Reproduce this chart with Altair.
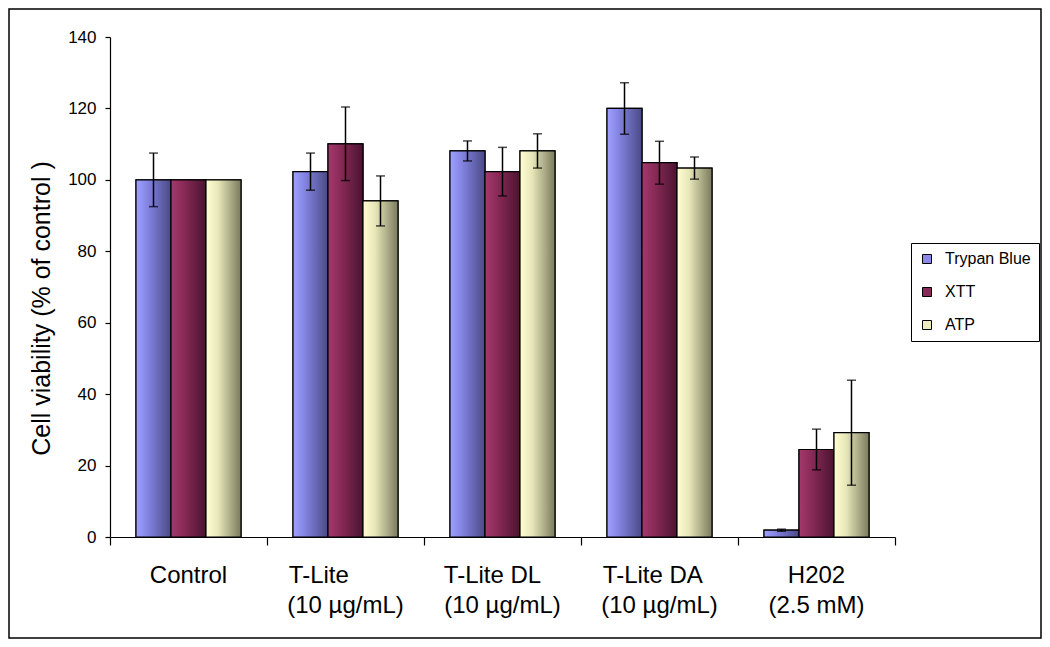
import json
import altair as alt
import pandas as pd

# ---------------- data ----------------
categories = ["Control", "T-Lite (10 µg/mL)", "T-Lite DL (10 µg/mL)",
              "T-Lite DA (10 µg/mL)", "H202 (2.5 mM)"]
NB = "\u00a0"
ZW = "\u200b"
category_lines = [
    ["Control"],
    ["T-Lite" + NB * 8 + ZW, "(10 µg/mL)"],
    ["T-Lite DL" + NB * 3 + ZW, "(10 µg/mL)"],
    ["T-Lite DA" + NB * 2 + ZW, "(10 µg/mL)"],
    ["H202", "(2.5 mM)"],
]
series = ["Trypan Blue", "XTT", "ATP"]

trypan_values = [100.0, 102.3, 108.1, 120.0, 1.9]
trypan_errors = [7.5, 5.2, 2.8, 7.2, 0.3]
xtt_values = [100.0, 110.1, 102.3, 104.8, 24.5]
xtt_errors = [0.0, 10.3, 6.8, 6.0, 5.7]
atp_values = [100.0, 94.1, 108.1, 103.3, 29.2]
atp_errors = [0.0, 7.0, 4.8, 3.1, 14.7]

y_ticks = [0, 20, 40, 60, 80, 100, 120, 140]

legend_colors = ["#8a8ae6", "#882a58", "#ececb8"]
gradients = {
    "Trypan Blue": ["#a0a0ff", "#8282e0", "#4a4a86"],
    "XTT": ["#a33a6c", "#8a2a58", "#4a1430"],
    "ATP": ["#ffffd2", "#e6e6b8", "#7a7a5e"],
}

# ---------------- table ----------------
rows = []
for s, vals, errs in [("Trypan Blue", trypan_values, trypan_errors),
                      ("XTT", xtt_values, xtt_errors),
                      ("ATP", atp_values, atp_errors)]:
    for c, v, e in zip(categories, vals, errs):
        rows.append({"cat": c, "series": s, "value": v, "err": e,
                     "lo": v - e, "hi": v + e})
df = pd.DataFrame(rows)
df_err = df[df["err"] > 0]

FONT = "Liberation Sans, Arial, sans-serif"

label_map = json.dumps(dict(zip(categories, category_lines)), ensure_ascii=False)

x_axis = alt.Axis(
    title=None, labelAngle=0, labelFont=FONT, labelFontSize=24, labelColor="black",
    labelLineHeight=30, labelBaseline="top", labelPadding=18,
    labelExpr=label_map + "[datum.label]",
    tickSize=8, tickColor="black", tickWidth=1.2, bandPosition=1, tickExtra=True,
    domainColor="black", domainWidth=1.2,
)
y_axis = alt.Axis(
    title="Cell viability (% of control )", titleFont=FONT, titleFontSize=25,
    titleFontWeight="normal", titleColor="black", titlePadding=13, titleY=271,
    values=y_ticks, labelFont=FONT, labelFontSize=17, labelColor="black",
    labelPadding=9, tickSize=5, tickColor="black", tickWidth=1.2,
    domainColor="black", domainWidth=1.2, grid=False,
)

x_enc = alt.X("cat:N", sort=categories, axis=x_axis,
              scale=alt.Scale(domain=categories, paddingInner=0, paddingOuter=0))
xoff_enc = alt.XOffset("series:N", sort=series,
                       scale=alt.Scale(domain=series, paddingInner=0, paddingOuter=0.743))
y_scale = alt.Scale(domain=[0, 140], nice=False)

base = alt.Chart(df).mark_bar(stroke="black", strokeWidth=1.2).encode(
    x=x_enc, xOffset=xoff_enc,
    y=alt.Y("value:Q", scale=y_scale, axis=y_axis),
    color=alt.Color("series:N", sort=series,
                    scale=alt.Scale(domain=series, range=legend_colors),
                    legend=alt.Legend(
                        title=None, orient="none", legendX=801, legendY=206,
                        strokeColor="black", fillColor="white", padding=8,
                        labelFont=FONT, labelFontSize=16, labelColor="black",
                        symbolType="square", symbolSize=81,
                        symbolStrokeColor="black", symbolStrokeWidth=1,
                        rowPadding=17, labelOffset=10)),
)

overlays = []
for s in series:
    stops = gradients[s]
    grad = alt.LinearGradient(
        gradient="linear", x1=0, x2=1, y1=0, y2=0,
        stops=[alt.GradientStop(color=stops[0], offset=0),
               alt.GradientStop(color=stops[1], offset=0.35),
               alt.GradientStop(color=stops[2], offset=1)])
    overlays.append(
        alt.Chart(df).transform_filter(alt.datum.series == s)
        .mark_bar(fill=grad, stroke="black", strokeWidth=1.2)
        .encode(x=x_enc, xOffset=xoff_enc,
                y=alt.Y("value:Q", scale=y_scale, axis=y_axis))
    )

err_rule = alt.Chart(df_err).mark_rule(color="black", strokeWidth=1.5).encode(
    x=x_enc, xOffset=xoff_enc,
    y=alt.Y("lo:Q", scale=y_scale, axis=y_axis), y2="hi:Q",
)
cap_lo = alt.Chart(df_err).mark_tick(color="black", thickness=1.5, size=9,
                                     orient="horizontal").encode(
    x=x_enc, xOffset=xoff_enc, y=alt.Y("lo:Q", scale=y_scale, axis=y_axis))
cap_hi = alt.Chart(df_err).mark_tick(color="black", thickness=1.5, size=9,
                                     orient="horizontal").encode(
    x=x_enc, xOffset=xoff_enc, y=alt.Y("hi:Q", scale=y_scale, axis=y_axis))

frame = alt.Chart(pd.DataFrame({"frame": [1]})).mark_rect(
    fill="transparent", stroke="black", strokeWidth=1.5).encode(
    x=alt.value(-101), x2=alt.value(931), y=alt.value(-28), y2=alt.value(601))

chart = alt.layer(frame, base, *overlays, err_rule, cap_lo, cap_hi).properties(
    width=785, height=500, padding=0, background="white",
).configure_view(strokeWidth=0)

chart.save("out.html", embed_options={"renderer": "svg", "actions": False})
